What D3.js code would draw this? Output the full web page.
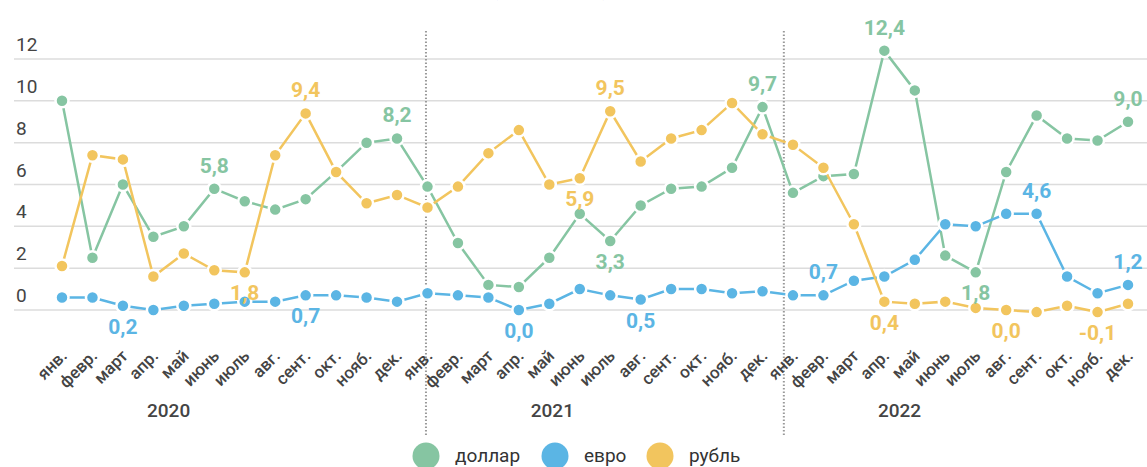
<!DOCTYPE html>
<html>
<head>
<meta charset="utf-8">
<script src="https://cdn.jsdelivr.net/npm/d3@7"></script>
<style>
  body { margin: 0; background: #fff; }
  svg { display: block; font-family: Roboto, "Noto Sans", sans-serif; }
</style>
</head>
<body>
<svg id="chart" width="1147" height="467"></svg>
<script>
// месяцы и годы
var months = ["янв.", "февр.", "март", "апр.", "май", "июнь", "июль", "авг.", "сент.", "окт.", "нояб.", "дек."];
var years = ["2020", "2021", "2022"];
var yearPos = [3.5, 16.1, 27.5];     // где стоит подпись года (индекс месяца)
var dividers = [11.95, 23.7];        // пунктирные разделители лет
var yTicks = [0, 2, 4, 6, 8, 10, 12];

// значения, %
var dollar = [10.0, 2.5, 6.0, 3.5, 4.0, 5.8, 5.2, 4.8, 5.3, 6.6, 8.0, 8.2,
              5.9, 3.2, 1.2, 1.1, 2.5, 4.6, 3.3, 5.0, 5.8, 5.9, 6.8, 9.7,
              5.6, 6.4, 6.5, 12.4, 10.5, 2.6, 1.8, 6.6, 9.3, 8.2, 8.1, 9.0];
var euro   = [0.6, 0.6, 0.2, 0.0, 0.2, 0.3, 0.4, 0.4, 0.7, 0.7, 0.6, 0.4,
              0.8, 0.7, 0.6, 0.0, 0.3, 1.0, 0.7, 0.5, 1.0, 1.0, 0.8, 0.9,
              0.7, 0.7, 1.4, 1.6, 2.4, 4.1, 4.0, 4.6, 4.6, 1.6, 0.8, 1.2];
var ruble  = [2.1, 7.4, 7.2, 1.6, 2.7, 1.9, 1.8, 7.4, 9.4, 6.6, 5.1, 5.5,
              4.9, 5.9, 7.5, 8.6, 6.0, 6.3, 9.5, 7.1, 8.2, 8.6, 9.9, 8.4,
              7.9, 6.8, 4.1, 0.4, 0.3, 0.4, 0.1, 0.0, -0.1, 0.2, -0.1, 0.3];

var seriesNames = ["доллар", "евро", "рубль"];
var colors = ["#86c5a2", "#5bb5e4", "#f2c55e"];

// подписи значений: [серия, индекс месяца, сверху/снизу, текст]
var labels = [
  [0, 5, "up"], [0, 11, "up"], [0, 18, "down"], [0, 23, "up"], [0, 27, "up"], [0, 30, "down"], [0, 35, "up"],
  [1, 2, "down"], [1, 8, "down"], [1, 15, "down"], [1, 19, "down"], [1, 25, "up"], [1, 32, "up"], [1, 35, "up"],
  [2, 6, "down"], [2, 8, "up"], [2, 17, "down", "5,9"], [2, 18, "up"], [2, 27, "down"], [2, 31, "down"], [2, 34, "down"]
];

var svg = d3.select("#chart"),
    width = +svg.attr("width"),
    height = +svg.attr("height");

var data = [dollar, euro, ruble];
var n = dollar.length;

var x = d3.scaleLinear().domain([0, n - 1]).range([62, 1128]);
var y = d3.scaleLinear().domain([0, 12]).range([310, 59]);

var fmt = function(v) { return d3.format(".1f")(v).replace(".", ",").replace("−", "-"); };

// заголовок (в оригинале срезан верхним краем)
svg.append("text")
  .attr("x", 18)
  .attr("y", -4)
  .attr("fill", "#333")
  .attr("font-size", 18)
  .attr("font-weight", 700)
  .text("Годовая динамика курсов валют: доллар, евро и рубль (в процентах)");

// сетка
var grid = svg.append("g").attr("class", "grid");
grid.selectAll("line")
  .data(yTicks)
  .enter().append("line")
  .attr("x1", 14)
  .attr("x2", width)
  .attr("y1", function(d) { return y(d); })
  .attr("y2", function(d) { return y(d); })
  .attr("stroke", "#dcdcdc")
  .attr("stroke-width", 1.5);

grid.selectAll("text")
  .data(yTicks)
  .enter().append("text")
  .attr("x", 16)
  .attr("y", function(d) { return y(d) - 8; })
  .attr("fill", "#444")
  .attr("font-size", 19)
  .text(function(d) { return d; });

// разделители лет
svg.append("g").selectAll("line")
  .data(dividers)
  .enter().append("line")
  .attr("x1", function(d) { return x(d); })
  .attr("x2", function(d) { return x(d); })
  .attr("y1", 31)
  .attr("y2", 436)
  .attr("stroke", "#999")
  .attr("stroke-width", 2)
  .attr("stroke-dasharray", "1.5,2");

// подписи месяцев
svg.append("g").selectAll("text")
  .data(d3.range(n))
  .enter().append("text")
  .attr("transform", function(i) { return "translate(" + (x(i) + 6) + ",357) rotate(-45)"; })
  .attr("text-anchor", "end")
  .attr("fill", "#444")
  .attr("font-size", 17)
  .attr("font-weight", 500)
  .text(function(i) { return months[i % 12]; });

// годы
svg.append("g").selectAll("text")
  .data(years)
  .enter().append("text")
  .attr("x", function(d, i) { return x(yearPos[i]); })
  .attr("y", 417)
  .attr("text-anchor", "middle")
  .attr("fill", "#444")
  .attr("font-size", 19)
  .attr("font-weight", 500)
  .text(function(d) { return d; });

// линии и точки
var line = d3.line()
  .x(function(d, i) { return x(i); })
  .y(function(d) { return y(d); });

var series = svg.append("g").selectAll("g")
  .data(data)
  .enter().append("g");

series.append("path")
  .attr("d", line)
  .attr("fill", "none")
  .attr("stroke", function(d, i) { return colors[i]; })
  .attr("stroke-width", 2.5);

series.each(function(vals, si) {
  d3.select(this).selectAll("circle")
    .data(vals)
    .enter().append("circle")
    .attr("cx", function(d, i) { return x(i); })
    .attr("cy", function(d) { return y(d); })
    .attr("r", 6.5)
    .attr("fill", colors[si])
    .attr("stroke", "#fff")
    .attr("stroke-width", 2.5);
});

// подписи значений
svg.append("g").selectAll("text")
  .data(labels)
  .enter().append("text")
  .attr("x", function(d) { return x(d[1]); })
  .attr("y", function(d) {
    var py = y(data[d[0]][d[1]]);
    return d[2] === "up" ? py - 16 : py + 28;
  })
  .attr("text-anchor", "middle")
  .attr("fill", function(d) { return colors[d[0]]; })
  .attr("font-size", 21)
  .attr("font-weight", 700)
  .text(function(d) { return d[3] || fmt(data[d[0]][d[1]]); });

// легенда
var legendX = [426, 555, 660];
var legend = svg.append("g").selectAll("g")
  .data(seriesNames)
  .enter().append("g")
  .attr("transform", function(d, i) { return "translate(" + legendX[i] + ",456)"; });

legend.append("circle")
  .attr("r", 13.5)
  .attr("fill", function(d, i) { return colors[i]; });

legend.append("text")
  .attr("x", 29)
  .attr("y", 6)
  .attr("fill", "#333")
  .attr("font-size", 19)
  .text(function(d) { return d; });
</script>
</body>
</html>
